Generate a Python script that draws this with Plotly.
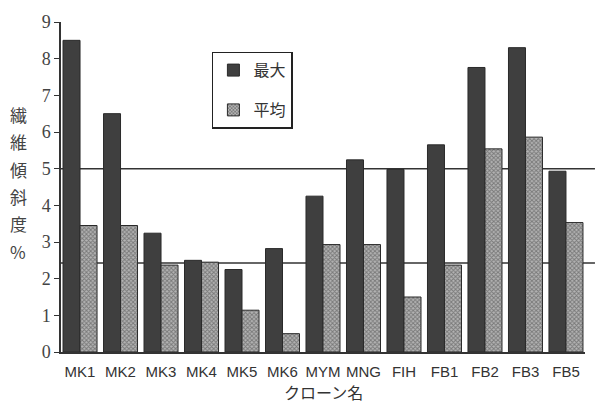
import plotly.graph_objects as go

# clone names and fibre inclination (%) per clone
clones = ["MK1", "MK2", "MK3", "MK4", "MK5", "MK6", "MYM", "MNG", "FIH", "FB1", "FB2", "FB3", "FB5"]
max_vals = [8.5, 6.5, 3.24, 2.5, 2.25, 2.82, 4.25, 5.24, 4.98, 5.65, 7.76, 8.3, 4.93]
mean_vals = [3.45, 3.45, 2.37, 2.45, 1.14, 0.5, 2.93, 2.93, 1.5, 2.37, 5.54, 5.86, 3.53]

# horizontal reference levels
ref_max = 5.0
ref_mean = 2.43

y_ticks = list(range(0, 10))
y_title_chars = ["繊", "維", "傾", "斜", "度", "%"]

fig = go.Figure()
fig.add_trace(go.Bar(
    x=clones, y=max_vals, name="最大", legendgroup="max",
    marker=dict(color="#3f3f3f", line=dict(color="#2a2a2a", width=1)),
))
fig.add_trace(go.Bar(
    x=clones, y=mean_vals, name="平均", legendgroup="mean",
    marker=dict(
        color="#8a8a8a",
        line=dict(color="#2a2a2a", width=1),
        pattern=dict(shape="x", fgcolor="#404040", bgcolor="#b4b4b4", size=3, solidity=0.55),
    ),
))

for lvl in (ref_max, ref_mean):
    fig.add_shape(type="line", xref="paper", yref="y", x0=0, x1=1.019, y0=lvl, y1=lvl,
                  line=dict(color="#333333", width=1.5), layer="below")

# vertical axis title, one character per row
annotations = []
for i, ch in enumerate(y_title_chars):
    annotations.append(dict(
        text=ch, xref="paper", yref="paper", x=-0.082, y=0.72 - i * 0.083,
        showarrow=False, xanchor="center", yanchor="middle",
        font=dict(family="Noto Sans CJK JP", size=17, color="#444444"),
    ))
annotations.append(dict(
    text="クローン名", xref="paper", yref="paper", x=0.5, y=-0.12,
    showarrow=False, yanchor="middle",
    font=dict(family="Noto Sans CJK JP", size=16, color="#333333"),
))

fig.update_layout(
    width=597, height=406,
    margin=dict(l=61, r=12, t=15, b=54),
    paper_bgcolor="white", plot_bgcolor="white",
    barmode="group", bargap=0.16, bargroupgap=0.0,
    showlegend=True,
    legend=dict(
        x=0.288, y=0.91, xanchor="left", yanchor="top",
        bordercolor="#222222", borderwidth=1.5, bgcolor="white",
        font=dict(family="Noto Sans CJK JP", size=16, color="#333333"),
        tracegroupgap=16, itemwidth=30,
    ),
    xaxis=dict(
        range=[-0.47, 12.47], showline=True, linecolor="#333333", linewidth=1.5,
        ticks="", showgrid=False, zeroline=False, ticklabelstandoff=5,
        tickfont=dict(family="Liberation Sans", size=15, color="#333333"),
    ),
    yaxis=dict(
        range=[0, 9], tickvals=y_ticks, showline=True, linecolor="#333333", linewidth=1.5,
        ticks="outside", ticklen=5, tickcolor="#333333", tickwidth=1.2,
        showgrid=False, zeroline=False,
        tickfont=dict(family="Liberation Serif", size=18, color="#444444"),
    ),
    annotations=annotations,
)

fig.write_html("out.html")
